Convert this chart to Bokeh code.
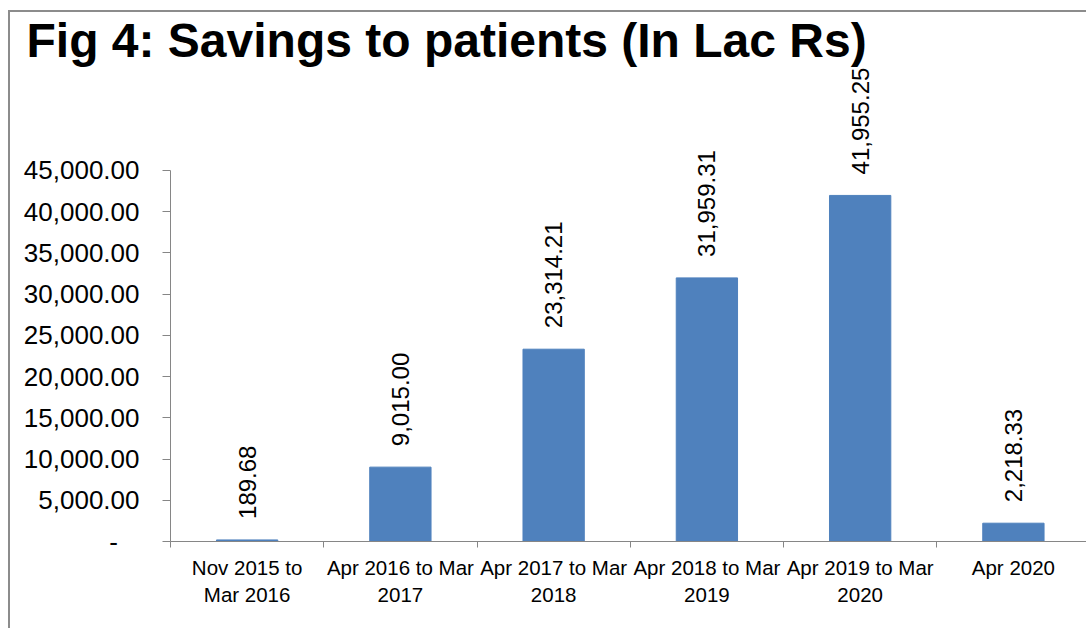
import numpy as np
from bokeh.plotting import figure
from bokeh.models import Range1d, FixedTicker, NumeralTickFormatter, ColumnDataSource, LabelSet, Title
from bokeh.core.properties import value
from bokeh.embed import file_html
from bokeh.resources import INLINE

# ---- data ----
categories = ["Nov 2015 to\nMar 2016", "Apr 2016 to Mar\n2017", "Apr 2017 to Mar\n2018",
              "Apr 2018 to Mar\n2019", "Apr 2019 to Mar\n2020", "Apr 2020"]
savings = [189.68, 9015.00, 23314.21, 31959.31, 41955.25, 2218.33]
y_ticks = [0, 5000, 10000, 15000, 20000, 25000, 30000, 35000, 40000, 45000]
title_text = "Fig 4: Savings to patients (In Lac Rs)"

FONT = "Liberation Sans"
GRAY = "#868686"
BAR = "#4F81BD"

centers = [float(i) + 0.5 for i in range(len(categories))]
bounds_x = [float(i) for i in range(len(categories) + 1)]

title = Title(text=title_text, align="left", offset=-144, standoff=-8,
              vertical_align="bottom", text_font=FONT, text_font_style="bold",
              text_font_size="48px", text_color="black")

p = figure(width=1078, height=618,
           x_range=Range1d(0, 5.99), y_range=Range1d(0, 58070),
           output_backend="svg", toolbar_location=None, title=title,
           min_border_left=160, min_border_right=0, min_border_top=50, min_border_bottom=89)
p.styles = {"margin-left": "8px", "margin-top": "10px",
            "border-left": "2px solid #8c8c8c", "border-top": "2px solid #8c8c8c"}
p.xgrid.visible = False
p.ygrid.visible = False
p.outline_line_color = None
p.background_fill_color = "white"
p.border_fill_color = "white"

src = ColumnDataSource(dict(x=centers, top=savings,
                            label=[f"{v:,.2f}" for v in savings]))
p.vbar(x="x", top="top", width=0.4, source=src, fill_color=BAR, line_color=BAR)

labels = LabelSet(x="x", y="top", text="label", source=src, angle=np.pi / 2,
                  text_align="left", text_baseline="middle", y_offset=21,
                  text_font=value(FONT), text_font_size="24px", text_color="black")
p.add_layout(labels)

# y axis
yax = p.yaxis[0]
yax.ticker = FixedTicker(ticks=y_ticks, minor_ticks=[])
yax.formatter = NumeralTickFormatter(format="0,0.00")
yax.major_label_overrides = {0: "-\u00a0\u00a0\u00a0"}
yax.bounds = (0, 45000)
yax.axis_line_color = GRAY
yax.major_tick_line_color = GRAY
yax.major_tick_out = 8
yax.major_tick_in = 0
yax.minor_tick_line_color = None
yax.major_label_text_font = FONT
yax.major_label_text_font_size = "26px"
yax.major_label_text_color = "black"
yax.major_label_standoff = 23

# x axis
xax = p.xaxis[0]
xax.ticker = FixedTicker(ticks=centers, minor_ticks=bounds_x)
xax.major_label_overrides = {c: lab for c, lab in zip(centers, categories)}
xax.major_tick_line_color = None
xax.major_tick_out = 0
xax.major_tick_in = 0
xax.minor_tick_out = 6
xax.minor_tick_in = 0
xax.minor_tick_line_color = GRAY
xax.axis_line_color = GRAY
xax.major_label_text_font = FONT
xax.major_label_text_font_size = "20.5px"
xax.major_label_text_color = "black"
xax.major_label_standoff = 8

open("out.html", "w").write(file_html(p, INLINE))
